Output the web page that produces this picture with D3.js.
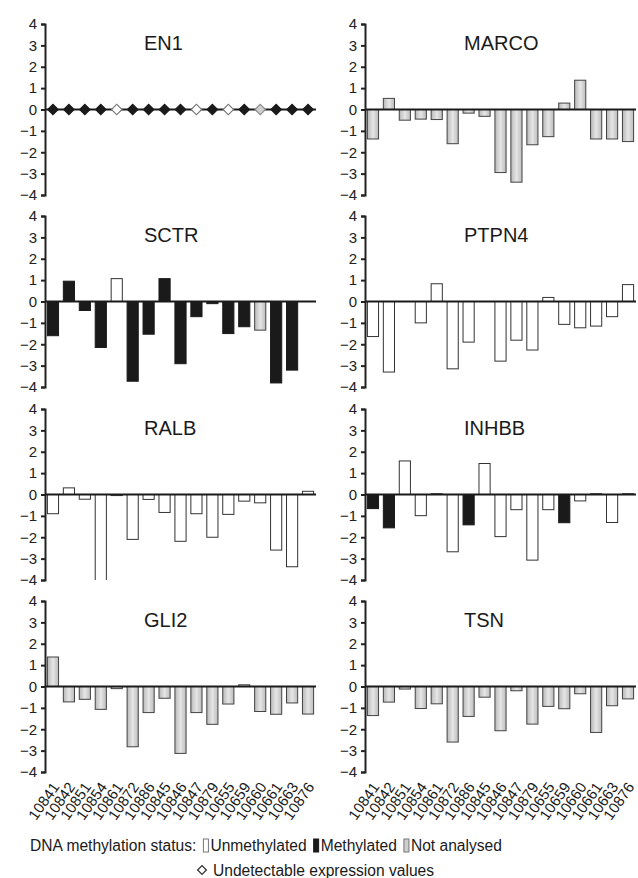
<!DOCTYPE html>
<html>
  <head>
    <meta charset="UTF-8" />
    <style>
      body { margin: 0; background: #fff; }
      svg { font-family: "Liberation Sans", Arial, sans-serif; }
      .axis path, .axis line { stroke: #222; stroke-width: 2; }
      .axis text { font-size: 15px; fill: #222; }
    </style>
  </head>
  <body>
    <svg></svg>
    <script src="https://d3js.org/d3.v7.min.js"></script>
    <script>
      let width = 638,
        height = 878;

      // sample ids along x
      var samples = ["10841", "10842", "10851", "10854", "10861", "10872", "10886", "10845",
        "10846", "10847", "10879", "10655", "10659", "10660", "10661", "10663", "10876"];

      var genes = ["EN1", "MARCO", "SCTR", "PTPN4", "RALB", "INHBB", "GLI2", "TSN"];

      // relative expression per gene (null = no bar)
      var en1Values = [0, 0, 0, 0, 0, 0, 0, 0, 0, 0, 0, 0, 0, 0, 0, 0, 0];
      var marcoValues = [-1.38, 0.52, -0.5, -0.45, -0.47, -1.6, -0.17, -0.32, -2.95, -3.4, -1.65, -1.27, 0.3, 1.37, -1.38, -1.38, -1.5];
      var sctrValues = [-1.6, 0.95, -0.42, -2.15, 1.07, -3.73, -1.53, 1.07, -2.91, -0.71, -0.1, -1.5, -1.18, -1.34, -3.81, -3.21, null];
      var ptpn4Values = [-1.64, -3.3, 0, -1.0, 0.83, -3.15, -1.9, 0, -2.79, -1.81, -2.27, 0.19, -1.07, -1.23, -1.15, -0.71, 0.79];
      var ralbValues = [-0.9, 0.31, -0.22, -5, -0.05, -2.1, -0.23, -0.84, -2.19, -0.9, -2.0, -0.93, -0.31, -0.39, -2.6, -3.38, 0.15];
      var inhbbValues = [-0.66, -1.56, 1.57, -0.99, 0.03, -2.68, -1.42, 1.45, -1.97, -0.71, -3.07, -0.71, -1.32, -0.3, 0.03, -1.31, 0.03];
      var gli2Values = [1.38, -0.72, -0.6, -1.07, -0.1, -2.82, -1.22, -0.55, -3.13, -1.22, -1.77, -0.82, 0.08, -1.17, -1.3, -0.77, -1.29];
      var tsnValues = [-1.36, -0.73, -0.12, -1.03, -0.81, -2.6, -1.4, -0.5, -2.07, -0.2, -1.76, -0.93, -1.04, -0.34, -2.15, -0.9, -0.58];

      // methylation status: U unmethylated, M methylated, N not analysed
      var en1Status = ["M", "M", "M", "M", "U", "M", "M", "M", "M", "U", "M", "U", "M", "N", "M", "M", "M"];
      var marcoStatus = Array(17).fill("N");
      var sctrStatus = ["M", "M", "M", "M", "U", "M", "M", "M", "M", "M", "M", "M", "M", "N", "M", "M", "M"];
      var ptpn4Status = Array(17).fill("U");
      var ralbStatus = Array(17).fill("U");
      var inhbbStatus = ["M", "M", "U", "U", "M", "U", "M", "U", "U", "U", "U", "U", "M", "U", "M", "U", "M"];
      var gli2Status = Array(17).fill("N");
      var tsnStatus = Array(17).fill("N");

      // EN1 expression was undetectable -> drawn as diamonds
      var undetectable = ["EN1"];

      var yTicks = [-4, -3, -2, -1, 0, 1, 2, 3, 4];

      var legendItems = [
        { label: "Unmethylated", status: "U" },
        { label: "Methylated", status: "M" },
        { label: "Not analysed", status: "N" },
      ];

      var panels = [
        { gene: "EN1", values: en1Values, status: en1Status },
        { gene: "MARCO", values: marcoValues, status: marcoStatus },
        { gene: "SCTR", values: sctrValues, status: sctrStatus },
        { gene: "PTPN4", values: ptpn4Values, status: ptpn4Status },
        { gene: "RALB", values: ralbValues, status: ralbStatus },
        { gene: "INHBB", values: inhbbValues, status: inhbbStatus },
        { gene: "GLI2", values: gli2Values, status: gli2Status },
        { gene: "TSN", values: tsnValues, status: tsnStatus },
      ];

      let svg = d3.select("svg").attr("width", width).attr("height", height);

      var defs = svg.append("defs");
      var grad = defs
        .append("linearGradient")
        .attr("id", "grayGrad")
        .attr("x1", "0%")
        .attr("x2", "100%");
      grad.append("stop").attr("offset", "0%").attr("stop-color", "#b8b8b8");
      grad.append("stop").attr("offset", "50%").attr("stop-color", "#e6e6e6");
      grad.append("stop").attr("offset", "100%").attr("stop-color", "#bcbcbc");

      var fillFor = { U: "#ffffff", M: "#1a1a1a", N: "url(#grayGrad)" };
      var strokeFor = { U: "#333", M: "#1a1a1a", N: "#444" };
      var diamondFill = { U: "#ffffff", M: "#1a1a1a", N: "#cfcfcf" };
      var diamondStroke = { U: "#777", M: "#1a1a1a", N: "#888" };

      var colX = [45, 365];
      var rowTop = [24, 216, 409, 601];
      var plotW = 271,
        plotH = 171;

      var x = d3.scaleBand().domain(samples).range([0, plotW]).paddingInner(0.3).paddingOuter(0.15);
      var y = d3.scaleLinear().domain([-4, 4]).range([plotH, 0]);

      panels.forEach(function (p, i) {
        var col = i % 2,
          row = Math.floor(i / 2);
        var g = svg
          .append("g")
          .attr("transform", "translate(" + colX[col] + "," + rowTop[row] + ")");

        defs
          .append("clipPath")
          .attr("id", "clip" + i)
          .append("rect")
          .attr("x", 0)
          .attr("y", 0)
          .attr("width", plotW + 2)
          .attr("height", plotH);

        var data = samples.map(function (s, j) {
          return { sample: s, value: p.values[j], status: p.status[j] };
        });

        if (undetectable.indexOf(p.gene) < 0) {
          g.append("g")
            .attr("clip-path", "url(#clip" + i + ")")
            .selectAll("rect")
            .data(data.filter((d) => d.value != null))
            .enter()
            .append("rect")
            .attr("x", (d) => x(d.sample))
            .attr("width", x.bandwidth())
            .attr("y", (d) => y(Math.max(0, d.value)))
            .attr("height", (d) => Math.abs(y(d.value) - y(0)))
            .attr("fill", (d) => fillFor[d.status])
            .attr("stroke", (d) => strokeFor[d.status])
            .attr("stroke-width", 1);
        }

        // zero line
        g.append("line")
          .attr("x1", 0)
          .attr("x2", plotW)
          .attr("y1", y(0))
          .attr("y2", y(0))
          .attr("stroke", "#1a1a1a")
          .attr("stroke-width", 2);

        if (undetectable.indexOf(p.gene) >= 0) {
          g.selectAll("path.dia")
            .data(data)
            .enter()
            .append("path")
            .attr("class", "dia")
            .attr("d", d3.symbol(d3.symbolSquare, 55)())
            .attr("transform", (d) => "translate(" + (x(d.sample) + x.bandwidth() / 2) + "," + y(d.value) + ") rotate(45)")
            .attr("fill", (d) => diamondFill[d.status])
            .attr("stroke", (d) => diamondStroke[d.status])
            .attr("stroke-width", 1.2);
        }

        g.append("g")
          .attr("class", "axis")
          .call(d3.axisLeft(y).tickValues(yTicks).tickSize(4).tickSizeOuter(4).tickPadding(4).tickFormat(d3.format("d")))
          .call((a) => a.selectAll("text").text((d) => (d < 0 ? "\u2212" + Math.abs(d) : d)));

        g.append("text")
          .attr("x", 99)
          .attr("y", 26)
          .attr("font-size", 20)
          .attr("fill", "#1a1a1a")
          .text(p.gene);

        if (row === 3) {
          g.selectAll("text.xl")
            .data(samples)
            .enter()
            .append("text")
            .attr("class", "xl")
            .attr("font-size", 15)
            .attr("fill", "#1a1a1a")
            .attr("text-anchor", "end")
            .attr("transform", (d) => "translate(" + (x(d) + x.bandwidth() / 2 + 7) + "," + (plotH + 15) + ") rotate(-55)")
            .text((d) => d);
        }
      });

      // legend
      var lg = svg.append("g").attr("font-size", 15.6).attr("fill", "#1a1a1a");
      var title = lg.append("text").attr("x", 30).attr("y", 851).text("DNA methylation status:");
      var cx = 30 + title.node().getComputedTextLength() + 7;
      legendItems.forEach(function (it) {
        lg.append("rect")
          .attr("x", cx)
          .attr("y", 839)
          .attr("width", 5)
          .attr("height", 13)
          .attr("fill", diamondFill[it.status])
          .attr("stroke", it.status === "M" ? "#1a1a1a" : "#777")
          .attr("stroke-width", 1);
        var t = lg.append("text").attr("x", cx + 7).attr("y", 851).text(it.label);
        cx += 7 + t.node().getComputedTextLength() + 7;
      });

      lg.append("path")
        .attr("d", d3.symbol(d3.symbolSquare, 38)())
        .attr("transform", "translate(202,870) rotate(45)")
        .attr("fill", "#fff")
        .attr("stroke", "#333")
        .attr("stroke-width", 1.3);
      lg.append("text").attr("x", 213).attr("y", 876).text("Undetectable expression values");
    </script>
  </body>
</html>
